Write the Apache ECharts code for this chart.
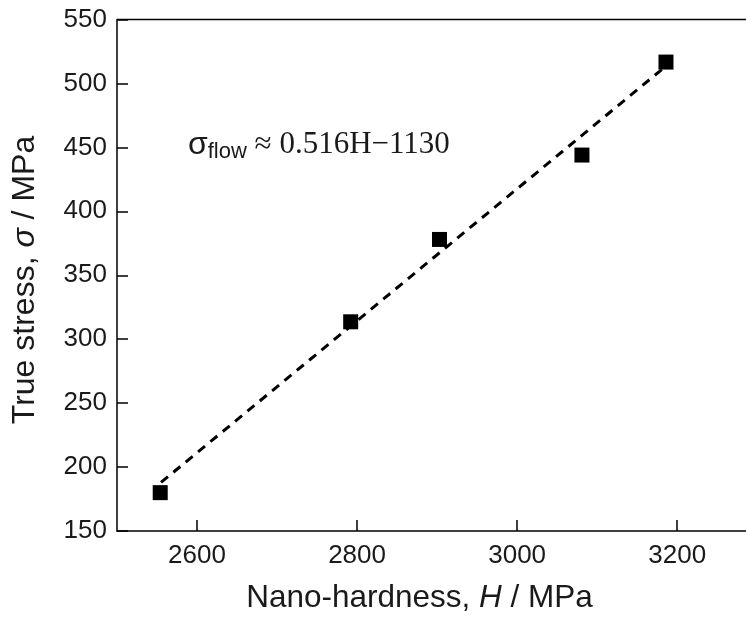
<!DOCTYPE html>
<html>
<head>
<meta charset="utf-8">
<script src="https://cdn.jsdelivr.net/npm/echarts@6/dist/echarts.min.js"></script>
<style>html,body{margin:0;padding:0;background:#fff}#c{width:746px;height:620px}</style>
</head>
<body>
<div id="c"></div>
<script>
// Data
var hardness = [2554, 2792, 2903, 3081, 3186];
var stress = [180, 313.6, 378, 444, 516.7];
var fitH = [2555, 3181];
var fitStress = [188, 511];
var xTicks = [2600, 2800, 3000, 3200];
var yTicks = [150, 200, 250, 300, 350, 400, 450, 500, 550];

var pts = hardness.map(function (h, i) { return [h, stress[i]]; });
var fit = fitH.map(function (h, i) { return [h, fitStress[i]]; });

var sans = '"Liberation Sans", Arial, sans-serif';
var serif = '"Liberation Serif", "Times New Roman", serif';
var txt = '#1a1a1a';

var chart = echarts.init(document.getElementById('c'), null, {renderer: 'canvas'});
chart.setOption({
  animation: false,
  backgroundColor: '#fff',
  grid: {left: 117, top: 19.5, right: 0, bottom: 89},
  xAxis: {
    type: 'value', min: 2500, max: 3286, interval: 100,
    axisLine: {show: true, onZero: false, lineStyle: {color: '#000', width: 1.5}},
    axisTick: {show: true, inside: true, length: 11, customValues: xTicks, lineStyle: {color: '#000', width: 1.5}},
    axisLabel: {customValues: xTicks, color: txt, fontFamily: sans, fontSize: 26, margin: 12,
      formatter: function (v) { return String(v); }},
    splitLine: {show: false}
  },
  yAxis: {
    type: 'value', min: 150, max: 550, interval: 50,
    axisLine: {show: true, onZero: false, lineStyle: {color: '#000', width: 1.5}},
    axisTick: {show: true, inside: true, length: 11, customValues: yTicks, lineStyle: {color: '#000', width: 1.5}},
    axisLabel: {customValues: yTicks, color: txt, fontFamily: sans, fontSize: 26, margin: 10,
      formatter: function (v) { return String(v); }},
    splitLine: {show: false}
  },
  graphic: [
    {type: 'line', shape: {x1: 117, y1: 19.5, x2: 746, y2: 19.5}, style: {stroke: '#000', lineWidth: 1.5}, z: 10},
    {type: 'text', x: 419.5, y: 598, style: {
      text: '{n|Nano-hardness, }{i|H}{n| / MPa}', align: 'center', verticalAlign: 'middle',
      rich: {n: {fontFamily: sans, fontSize: 31.5, fill: txt}, i: {fontFamily: sans, fontSize: 31.5, fontStyle: 'italic', fill: txt}}
    }},
    {type: 'text', x: 25, y: 280, rotation: Math.PI / 2, style: {
      text: '{n|True stress, }{i|σ}{n| / MPa}', align: 'center', verticalAlign: 'middle',
      rich: {n: {fontFamily: sans, fontSize: 32, fill: txt}, i: {fontFamily: sans, fontSize: 32, fontStyle: 'italic', fill: txt}}
    }},
    {type: 'text', x: 188, y: 145, style: {
      text: '{s|σ}{sub|flow}{t| ≈ 0.516H−1130}', align: 'left', verticalAlign: 'middle',
      rich: {
        s: {fontFamily: sans, fontSize: 32, fill: txt},
        sub: {fontFamily: sans, fontSize: 22, fill: txt, padding: [14, 0, 0, 0]},
        t: {fontFamily: serif, fontSize: 31, fill: txt}
      }
    }}
  ],
  series: [
    {type: 'line', data: fit, symbol: 'none', lineStyle: {color: '#000', width: 3, type: [9, 7]}, z: 2},
    {type: 'scatter', data: pts, symbol: 'rect', symbolSize: 15, itemStyle: {color: '#000', opacity: 1}, z: 3}
  ]
});
</script>
</body>
</html>
